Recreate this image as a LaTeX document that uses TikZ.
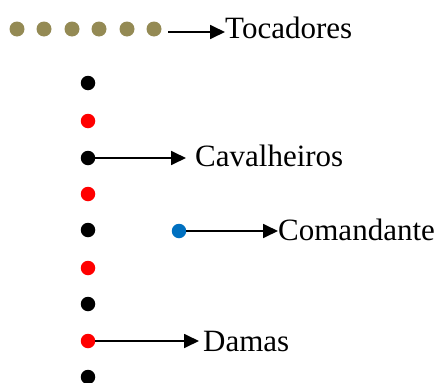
\documentclass[tikz,border=0pt]{standalone}
\usepackage{fontspec}
\setmainfont{Liberation Serif}
\usetikzlibrary{arrows.meta}
\definecolor{olive}{HTML}{948A54}
\definecolor{dblue}{HTML}{0070C0}
\begin{document}
\begin{tikzpicture}[x=1pt,y=-1pt,
  dot/.style={circle,inner sep=0pt,minimum size=14.5pt,fill=#1},
  tdot/.style={circle,inner sep=0pt,minimum size=15pt,fill=olive},
  lbl/.style={anchor=base west,inner sep=0pt,font=\fontsize{31}{36}\selectfont},
  arr/.style={-{Triangle[length=15pt,width=14pt]},line width=1.8pt}]
\useasboundingbox (0,0) rectangle (442,383);
% top row
\node[tdot] (t1) at (17,29) {};
\node[tdot] (t2) at (44,29) {};
\node[tdot] (t3) at (72,29) {};
\node[tdot] (t4) at (99,29) {};
\node[tdot] (t5) at (127,29) {};
\node[tdot] (t6) at (154,29) {};
\node[lbl] (toc) at (225,38) {Tocadores};
\coordinate (ts) at (168,32);
\draw[arr] (ts) -- (toc.west |- ts);
% column
\node[dot=black] (c1) at (88,83) {};
\node[dot=red]   (c2) at (88,121) {};
\node[dot=black] (c3) at (88,158) {};
\node[dot=red]   (c4) at (88,194) {};
\node[dot=black] (c5) at (88,230) {};
\node[dot=red]   (c6) at (88,268) {};
\node[dot=black] (c7) at (88,304) {};
\node[dot=red]   (c8) at (88,341) {};
\node[dot=black] (c9) at (88,377) {};
% commander
\node[dot=dblue] (cmd) at (179,231) {};
% labels
\node[lbl] (cav) at (195,166) {Cavalheiros};
\node[lbl] (com) at (278,240) {Comandante};
\node[lbl] (dam) at (203,351) {Damas};
\coordinate (cave) at (186,158);
\coordinate (come) at (278,231);
\coordinate (dame) at (199,341);
\draw[arr] (c3.east) -- (cave);
\draw[arr] (cmd.east) -- (come);
\draw[arr] (c8.east) -- (dame);
\end{tikzpicture}
\end{document}
